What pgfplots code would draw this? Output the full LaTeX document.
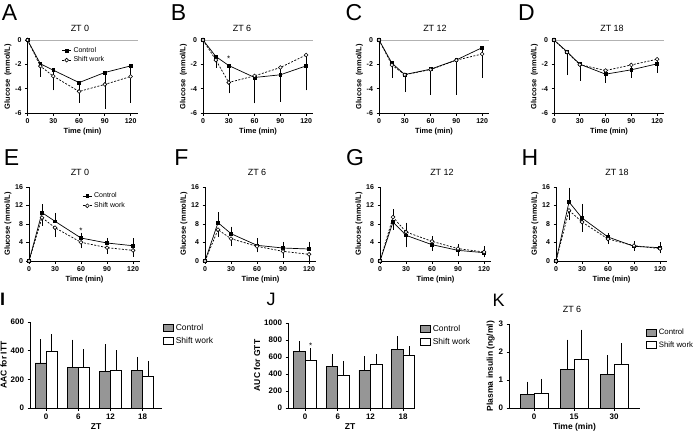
\documentclass[border=0pt]{standalone}
\usepackage{fontspec}
\setmainfont{Liberation Sans}
\usepackage{pgfplots}
\pgfplotsset{compat=1.18}
\definecolor{gpgray}{RGB}{150,150,150}
\newcommand\tf{\fontsize{7}{8}\selectfont\bfseries}
\newcommand\lf{\fontsize{7.5}{8}\selectfont\bfseries}
\newcommand\tfb{\fontsize{8}{9}\selectfont\bfseries}
\newcommand\lfb{\fontsize{8.5}{9}\selectfont\bfseries}
\newcommand\ttlf{\fontsize{9}{10}\selectfont}
\newcommand\letf{\fontsize{23}{24}\selectfont}
\newcommand\letg{\fontsize{18}{19}\selectfont}
\pgfplotsset{
 gp/.style={scale only axis, axis x line*=bottom, axis y line*=left, tick align=outside,
   major tick length=2.5pt, axis line style={line width=0.7pt},
   every tick/.style={black,line width=0.7pt}, ticklabel style={font=\tf},
   xlabel style={font=\lf, yshift=3pt}, ylabel style={font=\lf, yshift=-3pt},
   clip=false, /pgf/number format/assume math mode=true,
   /pgf/number format/set thousands separator={}, anchor=south west},
 itt/.style={gp, width=110pt, height=73pt, xmin=0, xmax=128, ymin=-6, ymax=0,
   xtick={0,30,60,90,120}, ytick={-6,-4,-2,0}, xlabel={Time (min)},
   ylabel={Glucose\enspace(mmol/L)}},
 gtt/.style={gp, width=111pt, height=74pt, xmin=0, xmax=128, ymin=0, ymax=16,
   xtick={0,30,60,90,120}, ytick={0,4,8,12,16}, xlabel={Time (min)},
   ylabel={Glucose (mmol/L)}},
 lleg/.style={legend style={draw=none, fill=none, font=\fontsize{7}{8}\selectfont,
   at={#1}, anchor=north west, inner sep=0pt, row sep=-1pt}, legend cell align=left,
   legend image code/.code={\draw[mark repeat=2,mark phase=2,##1] plot coordinates {(0pt,0pt) (4.5pt,0pt) (9pt,0pt)};}},
 ctl/.style={black, line width=0.7pt, mark=square*, mark size=1.4pt, mark options={solid},
   error bars/.cd, y dir=#1, y explicit, error mark options={black, mark size=2pt, line width=0.5pt, solid},
   error bar style={line width=0.5pt, solid}},
 sh/.style={black, line width=0.7pt, dash pattern=on 2pt off 1.5pt, mark=*, mark size=1.9pt,
   mark options={solid, fill=white, line width=0.6pt},
   error bars/.cd, y dir=#1, y explicit, error mark options={black, mark size=2pt, line width=0.5pt, solid},
   error bar style={line width=0.5pt, solid}},
 zl/.style={gray!60, line width=0.5pt, forget plot},
 bars/.style={gp, ybar=0pt, ymin=0, xtick={0,1,2,3}, ticklabel style={font=\tfb},
   xlabel style={font=\lfb}, ylabel style={font=\lfb},
   legend style={draw=none, fill=none, font=\fontsize{8.5}{9}\selectfont, at={(1,1)},
   anchor=north west, inner sep=0pt, row sep=1pt}, legend cell align=left},
 sq/.style={legend image code/.code={\draw[##1] (0pt,-3.5pt) rectangle (10pt,3.5pt);}},
 cbar/.style={fill=gpgray, draw=black, line width=0.6pt, sq,
   error bars/.cd, y dir=plus, y explicit, error mark options={black, mark size=2.8pt, line width=0.7pt},
   error bar style={line width=0.7pt}},
 sbar/.style={fill=white, draw=black, line width=0.6pt, sq,
   error bars/.cd, y dir=plus, y explicit, error mark options={black, mark size=2.8pt, line width=0.7pt},
   error bar style={line width=0.7pt}},
}
\begin{document}
\begin{tikzpicture}
\path[use as bounding box] (0,0) rectangle (694pt,-431pt);
% ---------- Row 1: ITT ----------
\begin{axis}[itt, at={(27.5pt,-113pt)}, lleg={(0.31,0.93)}]
\addplot[zl] coordinates {(0,0) (128,0)};
\addplot[ctl=minus] coordinates {(0,0) +- (0,0) (15,-1.96) +- (0,0.9) (30,-2.48) +- (0,1.45) (60,-3.5) +- (0,1.45) (90,-2.67) +- (0,2.1) (120,-2.13) +- (0,1.8)};
\addplot[sh=minus] coordinates {(0,0) +- (0,0) (15,-2.15) +- (0,0.7) (30,-2.97) +- (0,1.0) (60,-4.23) +- (0,0.75) (90,-3.65) +- (0,1.85) (120,-3.0) +- (0,2.0)};
\legend{Control, Shift work}
\end{axis}
\begin{axis}[itt, at={(203pt,-113pt)}]
\addplot[zl] coordinates {(0,0) (128,0)};
\addplot[ctl=minus] coordinates {(0,0) +- (0,0) (15,-1.36) +- (0,0.65) (30,-2.1) +- (0,1.17) (60,-3.08) +- (0,1.97) (90,-2.86) +- (0,2.04) (120,-2.13) +- (0,1.85)};
\addplot[sh=minus] coordinates {(0,0) +- (0,0) (15,-1.65) +- (0,0.45) (30,-3.49) +- (0,0.74) (60,-2.95) +- (0,1.09) (90,-2.26) +- (0,1.44) (120,-1.23) +- (0,1.4)};
\node[font=\fontsize{8}{8}\selectfont] at (axis cs:30,-1.55) {*};
\end{axis}
\begin{axis}[itt, at={(379pt,-113pt)}]
\addplot[zl] coordinates {(0,0) (128,0)};
\addplot[ctl=minus] coordinates {(0,0) +- (0,0) (15,-1.9) +- (0,1.05) (30,-2.84) +- (0,1.2) (60,-2.4) +- (0,1.95) (90,-1.64) +- (0,2.7) (120,-0.63) +- (0,2.3)};
\addplot[sh=minus] coordinates {(0,0) +- (0,0) (15,-2.05) +- (0,0.9) (30,-2.86) +- (0,1.25) (60,-2.43) +- (0,1.52) (90,-1.66) +- (0,2.0) (120,-1.15) +- (0,1.6)};
\end{axis}
\begin{axis}[itt, at={(554pt,-113pt)}]
\addplot[zl] coordinates {(0,0) (128,0)};
\addplot[ctl=minus] coordinates {(0,0) +- (0,0) (15,-0.95) +- (0,1.78) (30,-1.99) +- (0,1.2) (60,-2.81) +- (0,0.55) (90,-2.45) +- (0,0.5) (120,-1.96) +- (0,0.55)};
\addplot[sh=minus] coordinates {(0,0) +- (0,0) (15,-1.0) +- (0,0.8) (30,-2.02) +- (0,1.0) (60,-2.51) +- (0,0.6) (90,-2.05) +- (0,0.8) (120,-1.58) +- (0,0.9)};
\end{axis}
% ---------- Row 2: GTT ----------
\begin{axis}[gtt, at={(29pt,-261pt)}, lleg={(0.48,0.95)}]
\addplot[ctl=plus] coordinates {(0,0) +- (0,0) (15,10.45) +- (0,1.4) (30,8.58) +- (0,1.4) (60,4.97) +- (0,0.75) (90,3.89) +- (0,0.7) (120,3.3) +- (0,1.15)};
\addplot[sh=minus] coordinates {(0,0) +- (0,0) (15,9.37) +- (0,1.3) (30,7.2) +- (0,1.6) (60,4.04) +- (0,0.9) (90,2.88) +- (0,0.9) (120,2.3) +- (0,0.95)};
\legend{Control, Shift work}
\node[font=\fontsize{8}{8}\selectfont] at (axis cs:60,6.5) {*};
\end{axis}
\begin{axis}[gtt, at={(205pt,-261pt)}]
\addplot[ctl=plus] coordinates {(0,0) +- (0,0) (15,8.29) +- (0,1.8) (30,5.91) +- (0,1.1) (60,3.39) +- (0,1.1) (90,2.81) +- (0,0.9) (120,2.59) +- (0,1.15)};
\addplot[sh=minus] coordinates {(0,0) +- (0,0) (15,6.77) +- (0,1.2) (30,4.83) +- (0,1.2) (60,3.17) +- (0,0.85) (90,2.09) +- (0,1.0) (120,1.44) +- (0,1.15)};
\end{axis}
\begin{axis}[gtt, at={(380pt,-261pt)}]
\addplot[ctl=minus] coordinates {(0,0) +- (0,0) (15,8.43) +- (0,1.2) (30,5.55) +- (0,2.15) (60,3.53) +- (0,0.85) (90,2.3) +- (0,0.85) (120,1.8) +- (0,0.6)};
\addplot[sh=plus] coordinates {(0,0) +- (0,0) (15,9.5) +- (0,1.3) (30,6.27) +- (0,1.6) (60,4.25) +- (0,0.7) (90,2.67) +- (0,0.5) (120,1.95) +- (0,0.85)};
\end{axis}
\begin{axis}[gtt, at={(556pt,-261pt)}]
\addplot[ctl=plus] coordinates {(0,0) +- (0,0) (15,12.76) +- (0,2.65) (30,9.3) +- (0,2.6) (60,5.19) +- (0,0.35) (90,3.17) +- (0,0.7) (120,2.88) +- (0,0.7)};
\addplot[sh=minus] coordinates {(0,0) +- (0,0) (15,10.95) +- (0,1.6) (30,8.43) +- (0,1.65) (60,4.76) +- (0,0.65) (90,3.32) +- (0,0.65) (120,2.67) +- (0,0.6)};
\end{axis}
% ---------- Row 3: bars ----------
\begin{axis}[bars, at={(30pt,-408pt)}, width=132pt, height=86pt, xmin=-0.5, xmax=3.6,
  ymax=600, ytick={0,200,400,600}, xticklabels={0,6,12,18}, bar width=11pt,
  xlabel={ZT}, ylabel={AAC for ITT}, legend style={xshift=1pt}]
\addplot[cbar] coordinates {(0,314) +- (0,146) (1,286) +- (0,172) (2,258) +- (0,168) (3,263) +- (0,74)};
\addplot[sbar] coordinates {(0,398) +- (0,97) (1,281) +- (0,110) (2,263) +- (0,121) (3,221) +- (0,88)};
\legend{Control, Shift work}
\end{axis}
\begin{axis}[bars, at={(288pt,-408pt)}, width=124pt, height=85pt, xmin=-0.52, xmax=3.27,
  ymax=1000, ytick={0,200,400,600,800,1000}, xticklabels={0,6,12,18}, bar width=11.5pt,
  xlabel={ZT}, ylabel={AUC for GTT}, legend style={xshift=8pt}]
\addplot[cbar] coordinates {(0,664) +- (0,91) (1,486) +- (0,119) (2,447) +- (0,126) (3,692) +- (0,122)};
\addplot[sbar] coordinates {(0,557) +- (0,111) (1,387) +- (0,135) (2,514) +- (0,91) (3,625) +- (0,67)};
\legend{Control, Shift work}
\node[font=\fontsize{8}{8}\selectfont, xshift=5.75pt] at (axis cs:0,735) {*};
\end{axis}
\begin{axis}[bars, at={(509pt,-408pt)}, width=131pt, height=84pt, xmin=-0.625, xmax=2.65,
  ymax=3, ytick={0,1,2,3}, xtick={0,1,2}, xticklabels={0,15,30}, bar width=14pt,
  xlabel={Time (min)}, ylabel={Plasma insulin (ng/ml)},
  legend style={xshift=6pt, yshift=-3pt, font=\fontsize{7.8}{8.5}\selectfont}]
\addplot[cbar] coordinates {(0,0.49) +- (0,0.35) (1,1.39) +- (0,0.95) (2,1.2) +- (0,0.58)};
\addplot[sbar] coordinates {(0,0.53) +- (0,0.41) (1,1.75) +- (0,0.95) (2,1.57) +- (0,0.64)};
\legend{Control, Shift work}
\end{axis}
% ---------- titles ----------
\node[font=\ttlf] at (80pt,-28pt) {ZT 0};
\node[font=\ttlf] at (242pt,-28pt) {ZT 6};
\node[font=\ttlf] at (435pt,-28pt) {ZT 12};
\node[font=\ttlf] at (612pt,-28pt) {ZT 18};
\node[font=\ttlf] at (80pt,-172pt) {ZT 0};
\node[font=\ttlf] at (257pt,-172pt) {ZT 6};
\node[font=\ttlf] at (442pt,-172pt) {ZT 12};
\node[font=\ttlf] at (617pt,-172pt) {ZT 18};
\node[font=\ttlf] at (572pt,-309pt) {ZT 6};
% ---------- panel letters ----------
\node[font=\letf, inner sep=0pt] at (9.5pt,-12.5pt) {A};
\node[font=\letf, inner sep=0pt] at (178.5pt,-12.5pt) {B};
\node[font=\letf, inner sep=0pt] at (354pt,-12.5pt) {C};
\node[font=\letf, inner sep=0pt] at (526.5pt,-12.5pt) {D};
\node[font=\letf, inner sep=0pt] at (11.5pt,-157.5pt) {E};
\node[font=\letf, inner sep=0pt] at (181.5pt,-157.5pt) {F};
\node[font=\letf, inner sep=0pt] at (355pt,-157.5pt) {G};
\node[font=\letf, inner sep=0pt] at (530pt,-157.5pt) {H};
\node[font=\letg\bfseries, inner sep=0pt, anchor=west] at (0pt,-299pt) {I};
\node[font=\letg, inner sep=0pt] at (271pt,-299pt) {J};
\node[font=\letg, inner sep=0pt] at (498.5pt,-300pt) {K};
\end{tikzpicture}
\end{document}
